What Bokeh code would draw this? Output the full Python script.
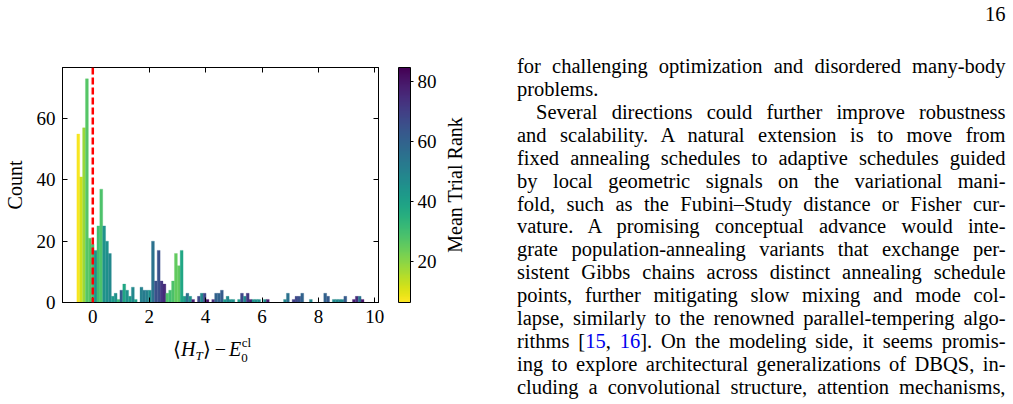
import math
from bokeh.plotting import figure
from bokeh.layouts import row, column
from bokeh.models import (Range1d, FixedTicker, LinearAxis, ColorBar, LinearColorMapper,
                          Span, ColumnDataSource, Div)
from bokeh.palettes import Viridis256
from bokeh.transform import linear_cmap
from bokeh.embed import file_html
from bokeh.resources import INLINE

# ---------------- data ----------------
bin_start = -0.565
bin_width = 0.1018
counts = [55, 41, 57, 73, 21, 19, 17, 25, 37, 25,
          20, 16, 2, 3, 1, 4, 6, 4, 2, 5,
          1, 0, 5, 4, 4, 4, 20, 7, 17, 7,
          6, 3, 4, 7, 16, 12, 17, 2, 3, 2,
          1, 0, 2, 3, 3, 1, 0, 1, 3, 3,
          4, 1, 2, 1, 1, 0, 1, 3, 2, 3,
          1, 1, 1, 1, 0, 1, 1, 0, 0, 0,
          0, 0, 1, 3, 0, 1, 2, 2, 3, 0,
          0, 1, 0, 0, 0, 0, 3, 2, 0, 1,
          1, 1, 1, 2, 0, 0, 1, 2, 2, 1]
mean_rank = [7, 12, 18, 27, 27, 30, 45, 30, 28, 45,
             45, 48, 42, 45, 32, 62, 38, 45, 42, 48,
             40, 0, 50, 52, 50, 45, 55, 65, 65, 72,
             75, 28, 30, 28, 25, 25, 38, 42, 55, 45,
             78, 0, 68, 48, 68, 80, 0, 75, 60, 60,
             62, 42, 48, 45, 45, 0, 42, 68, 48, 72,
             78, 45, 45, 45, 0, 45, 78, 0, 0, 0,
             0, 0, 48, 55, 0, 70, 68, 65, 60, 0,
             0, 48, 0, 0, 0, 0, 60, 62, 0, 48,
             48, 48, 48, 62, 0, 0, 78, 75, 55, 80]
x_ticks = [0, 2, 4, 6, 8, 10]
y_ticks = [0, 20, 40, 60]
cbar_ticks = [20, 40, 60, 80]
rank_low, rank_high = 6.2, 84.6
x_limits = (-1.074, 10.13)
y_limits = (0, 76.7)
ref_line_x = 0

y_label = "Count"
cbar_label = "Mean Trial Rank"
page_number = "16"

SERIF = "Liberation Serif"

# ---------------- histogram figure ----------------
W1, H1 = 444, 330
FL, FR, FT, FB = 62, 378, 67, 302  # frame box in page pixels

p = figure(width=W1, height=H1, x_range=Range1d(*x_limits), y_range=Range1d(*y_limits),
           output_backend="svg", toolbar_location=None,
           min_border_left=FL, min_border_right=W1 - FR, min_border_top=FT,
           min_border_bottom=H1 - FB, margin=0)
p.grid.visible = False
p.outline_line_color = "black"
p.outline_line_width = 1
p.background_fill_color = "white"
p.border_fill_color = "white"

lefts, rights, tops, ranks = [], [], [], []
for i, (c, r) in enumerate(zip(counts, mean_rank)):
    if c > 0:
        lefts.append(bin_start + i * bin_width)
        rights.append(bin_start + (i + 1) * bin_width)
        tops.append(c)
        ranks.append(r)
src = ColumnDataSource(dict(left=lefts, right=rights, top=tops, rank=ranks))
pal = list(reversed(Viridis256))
cmap = linear_cmap("rank", pal, rank_low, rank_high)
p.quad(left="left", right="right", top="top", bottom=0, source=src,
       fill_color=cmap, line_color=cmap, line_width=0.3)

p.add_layout(Span(location=ref_line_x, dimension="height", line_color="red",
                  line_dash="7 3", line_width=2.5))


def style_axis(ax, labels=True, standoff=7):
    ax.major_tick_in = 5
    ax.major_tick_out = 0
    ax.minor_tick_in = 0
    ax.minor_tick_out = 0
    ax.axis_line_color = "black"
    ax.major_tick_line_color = "black"
    ax.major_label_text_font = SERIF
    ax.major_label_text_color = "black"
    ax.major_label_standoff = standoff
    if labels:
        ax.major_label_text_font_size = "19px"
    else:
        ax.major_label_text_font_size = "0px"
        ax.major_label_text_color = None


p.xaxis.ticker = FixedTicker(ticks=x_ticks)
p.yaxis.ticker = FixedTicker(ticks=y_ticks)
for ax in p.xaxis + p.yaxis:
    style_axis(ax)
p.yaxis.axis_label = y_label
p.yaxis.axis_label_text_font = SERIF
p.yaxis.axis_label_text_font_style = "normal"
p.yaxis.axis_label_text_font_size = "20px"
p.yaxis.axis_label_text_color = "black"
p.yaxis.axis_label_standoff = 8

top_ax = LinearAxis(ticker=FixedTicker(ticks=x_ticks))
style_axis(top_ax, labels=False, standoff=0)
p.add_layout(top_ax, "above")
right_ax = LinearAxis(ticker=FixedTicker(ticks=y_ticks))
style_axis(right_ax, labels=False, standoff=0)
p.add_layout(right_ax, "right")

mapper = LinearColorMapper(palette=pal, low=rank_low, high=rank_high)
cb = ColorBar(color_mapper=mapper, ticker=FixedTicker(ticks=cbar_ticks),
              width=12, height=FB - FT, padding=0, margin=0, location=(20, 0),
              major_tick_in=0, major_tick_out=3, major_tick_line_color="black",
              minor_tick_line_color=None,
              bar_line_color="black", bar_line_width=1,
              major_label_text_font=SERIF, major_label_text_font_size="19px",
              major_label_text_color="black", label_standoff=4,
              background_fill_color=None, border_line_color=None)
p.add_layout(cb, "right")

FONT_CSS = f"font-family:'{SERIF}', serif; color:#000;"

# colour-bar label (rotated)
W_RANK = 26
rank_div = Div(width=W_RANK, height=H1, margin=0, text=(
    f"<div style=\"position:relative; width:{W_RANK}px; height:{H1}px; {FONT_CSS}\">"
    f"<div style=\"position:absolute; left:{455 - W1}px; top:185px; white-space:nowrap; "
    f"font-size:20px; line-height:20px; transform:translate(-50%,-50%) rotate(-90deg);\">"
    f"{cbar_label}</div></div>"))

# x axis label  <H_T> - E_0^cl
W_LEFT = W1 + W_RANK
H_XL = 404 - H1
xlab_div = Div(width=W_LEFT, height=H_XL, margin=0, text=(
    f"<div style=\"position:relative; width:{W_LEFT}px; height:{H_XL}px; {FONT_CSS}\">"
    f"<div style=\"position:absolute; left:{212 - 100}px; width:200px; top:{356 - H1 - 18}px; "
    f"text-align:center; font-size:20px; line-height:22px; white-space:nowrap;\">"
    "&#10216;<i>H</i><span style=\"font-size:13px; font-style:italic; position:relative; top:4px;\">T</span>"
    "&#10217;<span style=\"margin:0 3px 0 4px;\">&minus;</span><i>E</i>"
    "<span style=\"font-size:13px; position:relative; top:6px;\">0</span>"
    "<span style=\"font-size:13px; position:relative; top:-9px; margin-left:-6px;\">cl</span>"
    "</div></div>"))

# ---------------- page text ----------------
body = [
    ("for challenging optimization and disordered many-body", 517, True),
    ("problems.", 517, False),
    ("Several directions could further improve robustness", 536, True),
    ("and scalability. A natural extension is to move from", 517, True),
    ("fixed annealing schedules to adaptive schedules guided", 517, True),
    ("by local geometric signals on the variational mani-", 517, True),
    ("fold, such as the Fubini&ndash;Study distance or Fisher cur-", 517, True),
    ("vature. A promising conceptual advance would inte-", 517, True),
    ("grate population-annealing variants that exchange per-", 517, True),
    ("sistent Gibbs chains across distinct annealing schedule", 517, True),
    ("points, further mitigating slow mixing and mode col-", 517, True),
    ("lapse, similarly to the renowned parallel-tempering algo-", 517, True),
    ("rithms [<span style=\"color:#0000ee\">15</span>, <span style=\"color:#0000ee\">16</span>]. "
     "On the modeling side, it seems promis-", 517, True),
    ("ing to explore architectural generalizations of DBQS, in-", 517, True),
    ("cluding a convolutional structure, attention mechanisms,", 517, True),
]
FS = 20.5
RIGHT = 1005.5
BASE0, PITCH = 73.3, 22.93
ASC = 18.4  # baseline offset inside a 23px line box

X0 = W_LEFT
W2 = 1013 - X0
parts = [f"<div style=\"position:relative; width:{W2}px; height:404px; {FONT_CSS} "
         f"font-size:{FS}px; line-height:23px;\">"]
parts.append(f"<div style=\"position:absolute; right:{1013 - RIGHT}px; top:{21 - ASC:.1f}px; "
             f"height:23px;\">{page_number}</div>")
for k, (line, x0, just) in enumerate(body):
    top = BASE0 + k * PITCH - ASC
    align = "justify" if just else "left"
    parts.append(f"<div style=\"position:absolute; left:{x0 - X0}px; top:{top:.1f}px; "
                 f"width:{RIGHT - x0}px; height:23px; text-align:{align}; "
                 f"text-align-last:{align}; word-spacing:0;\">{line}</div>")
parts.append("</div>")
body_div = Div(width=W2, height=404, margin=0, text="".join(parts))

layout = row(column(row(p, rank_div, spacing=0, margin=0), xlab_div, spacing=0, margin=0),
             body_div, spacing=0, margin=0)
open("out.html", "w").write(file_html(layout, INLINE))
